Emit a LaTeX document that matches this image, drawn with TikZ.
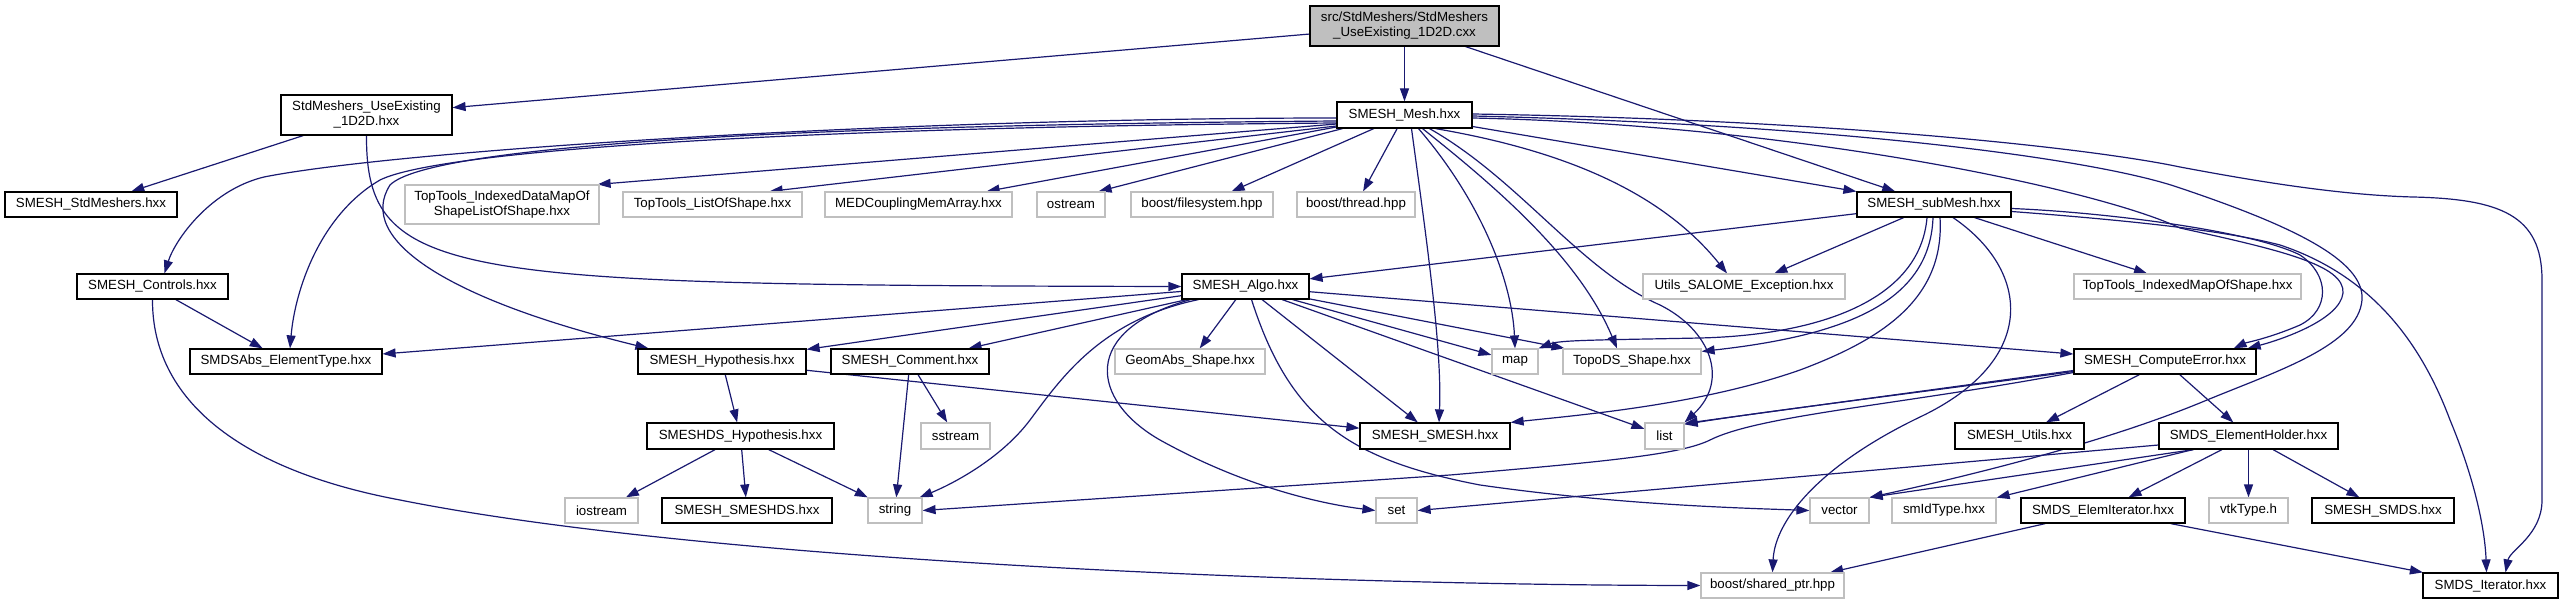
\documentclass[tikz,border=0pt]{standalone}
\usepackage{fontspec}
\setmainfont{Liberation Sans}
\usetikzlibrary{arrows.meta}
\definecolor{edgec}{HTML}{191970}
\definecolor{greyb}{HTML}{BFBFBF}
\pgfdeclarelayer{bg}
\pgfsetlayers{bg,main}
\tikzset{
 box/.style={fill=white, line width=1.2pt, inner sep=0pt, align=center, font=\fontsize{13.3}{15}\selectfont},
 doc/.style={box, draw=black},
 und/.style={box, draw=greyb},
 dep/.style={draw=edgec, line width=1.2pt, -{Triangle[length=13pt,width=9pt]}},
}
\begin{document}
\begin{tikzpicture}[x=1pt,y=-1pt]
\useasboundingbox (0,0) rectangle (2564,604);
% row 0
\node[doc, fill=greyb, minimum width=189pt, minimum height=40pt] (top) at (1404.5,26) {src/StdMeshers/StdMeshers\\\_UseExisting\_1D2D.cxx};
% row 1
\node[doc, minimum width=171pt, minimum height=40pt] (std) at (366.5,115) {StdMeshers\_UseExisting\\\_1D2D.hxx};
\node[doc, minimum width=135pt, minimum height=26pt] (mesh) at (1404.5,115) {SMESH\_Mesh.hxx};
% row 2
\node[doc, minimum width=172pt, minimum height=25pt] (smstd) at (91,204.5) {SMESH\_StdMeshers.hxx};
\node[und, minimum width=194pt, minimum height=39pt] (ttidm) at (502,204.5) {TopTools\_IndexedDataMapOf\\ShapeListOfShape.hxx};
\node[und, minimum width=179pt, minimum height=25pt] (ttlos) at (712.5,204.5) {TopTools\_ListOfShape.hxx};
\node[und, minimum width=187pt, minimum height=25pt] (med) at (918.5,204.5) {MEDCouplingMemArray.hxx};
\node[und, minimum width=68pt, minimum height=25pt] (ostream) at (1071,204.5) {ostream};
\node[und, minimum width=142pt, minimum height=25pt] (fs) at (1202,204.5) {boost/filesystem.hpp};
\node[und, minimum width=118pt, minimum height=25pt] (thread) at (1356,204.5) {boost/thread.hpp};
\node[doc, minimum width=154pt, minimum height=25pt] (submesh) at (1934,204.5) {SMESH\_subMesh.hxx};
% row 3
\node[doc, minimum width=151pt, minimum height=25pt] (controls) at (152.5,286.5) {SMESH\_Controls.hxx};
\node[doc, minimum width=127pt, minimum height=25pt] (algo) at (1245.5,286.5) {SMESH\_Algo.hxx};
\node[und, minimum width=202pt, minimum height=25pt] (utils) at (1744,286.5) {Utils\_SALOME\_Exception.hxx};
\node[und, minimum width=227pt, minimum height=25pt] (ttims) at (2187.5,286.5) {TopTools\_IndexedMapOfShape.hxx};
% row 4
\node[doc, minimum width=192pt, minimum height=25pt] (smdsabs) at (286,361.5) {SMDSAbs\_ElementType.hxx};
\node[doc, minimum width=168pt, minimum height=25pt] (hyp) at (722,361.5) {SMESH\_Hypothesis.hxx};
\node[doc, minimum width=158pt, minimum height=25pt] (comment) at (910,361.5) {SMESH\_Comment.hxx};
\node[und, minimum width=150pt, minimum height=25pt] (geomabs) at (1190,361.5) {GeomAbs\_Shape.hxx};
\node[und, minimum width=46pt, minimum height=25pt] (map) at (1515,361.5) {map};
\node[und, minimum width=138pt, minimum height=25pt] (topods) at (1632,361.5) {TopoDS\_Shape.hxx};
\node[doc, minimum width=182pt, minimum height=25pt] (comperr) at (2165,361.5) {SMESH\_ComputeError.hxx};
% row 5
\node[doc, minimum width=187pt, minimum height=26pt] (smeshdshyp) at (740.5,436) {SMESHDS\_Hypothesis.hxx};
\node[und, minimum width=69pt, minimum height=26pt] (sstream) at (955.5,436) {sstream};
\node[doc, minimum width=150pt, minimum height=26pt] (smesh) at (1435,436) {SMESH\_SMESH.hxx};
\node[und, minimum width=39pt, minimum height=26pt] (list) at (1664.5,436) {list};
\node[doc, minimum width=129pt, minimum height=26pt] (utilsh) at (2019.5,436) {SMESH\_Utils.hxx};
\node[doc, minimum width=179pt, minimum height=26pt] (elemholder) at (2248.5,436) {SMDS\_ElementHolder.hxx};
% row 6
\node[und, minimum width=73pt, minimum height=25pt] (iostream) at (601.5,510.5) {iostream};
\node[doc, minimum width=170pt, minimum height=25pt] (smeshds) at (747,510.5) {SMESH\_SMESHDS.hxx};
\node[und, minimum width=54pt, minimum height=25pt] (string) at (895,510.5) {string};
\node[und, minimum width=41pt, minimum height=25pt] (set) at (1396.5,510.5) {set};
\node[und, minimum width=59pt, minimum height=25pt] (vector) at (1839.5,510.5) {vector};
\node[und, minimum width=104pt, minimum height=25pt] (smid) at (1944,510.5) {smIdType.hxx};
\node[doc, minimum width=164pt, minimum height=25pt] (elemiter) at (2103,510.5) {SMDS\_ElemIterator.hxx};
\node[und, minimum width=79pt, minimum height=25pt] (vtk) at (2248.5,510.5) {vtkType.h};
\node[doc, minimum width=142pt, minimum height=25pt] (smds) at (2383,510.5) {SMESH\_SMDS.hxx};
% row 7
\node[und, minimum width=143pt, minimum height=25pt] (shared) at (1772.5,585.5) {boost/shared\_ptr.hpp};
\node[doc, minimum width=135pt, minimum height=25pt] (iter) at (2490.5,585.5) {SMDS\_Iterator.hxx};

\begin{pgfonlayer}{bg}
% top
\draw[dep] (top) -- (std);
\draw[dep] (top) -- (mesh);
\draw[dep] (top) -- (submesh);
% std
\draw[dep] (std) -- (smstd);
\draw[dep] (std.south) .. controls (366,280) and (450,285) .. (algo.west);
% mesh, left side
\draw[dep] ([yshift=-3pt]mesh.west) .. controls (900,118) and (400,150) .. (264,177) .. controls (210,190) and (175,240) .. ([xshift=12pt]controls.north);
\draw[dep] ([yshift=-8pt]mesh.west) .. controls (800,127) and (440,150) .. (380,180) .. controls (320,215) and (295,290) .. ([xshift=4pt]smdsabs.north);
\draw[dep] ([yshift=-6pt]mesh.west) .. controls (800,125) and (430,145) .. (390,185) .. controls (355,240) and (450,300) .. ([xshift=11pt]hyp.north west);
\draw[dep] ([yshift=-9pt]mesh.west) -- ([xshift=-2pt]ttidm.north east);
\draw[dep] ([yshift=-11pt]mesh.west) -- ([xshift=-33pt]ttlos.north east);
\draw[dep] ([yshift=-12pt]mesh.west) -- ([xshift=-26pt]med.north east);
\draw[dep] ([xshift=-62pt]mesh.south) -- ([xshift=-7pt]ostream.north east);
\draw[dep] (mesh) -- (fs);
\draw[dep] (mesh) -- (thread);
% mesh, bottom
\draw[dep] ([xshift=7pt]mesh.south) .. controls (1428,250) and (1442,350) .. ([xshift=4pt]smesh.north);
\draw[dep] ([xshift=14pt]mesh.south) .. controls (1480,200) and (1512,280) .. (map.north);
\draw[dep] ([xshift=18pt]mesh.south) .. controls (1500,190) and (1580,260) .. ([xshift=-15pt]topods.north);
\draw[dep] ([xshift=25pt]mesh.south) .. controls (1520,180) and (1580,270) .. (1660,305) .. controls (1710,330) and (1730,380) .. (list.north east);
\draw[dep] ([xshift=31pt]mesh.south) .. controls (1560,150) and (1660,190) .. ([xshift=-17pt]utils.north);
\draw[dep] (mesh) -- (submesh);
% mesh, right side
\draw[dep] ([yshift=-3pt]mesh.east) .. controls (1800,125) and (2100,190) .. (2180,228) .. controls (2280,250) and (2345,265) .. (2343,293) .. controls (2340,320) and (2280,340) .. ([xshift=-9pt]comperr.north east);
\draw[dep] ([yshift=-1pt]mesh.east) .. controls (1850,125) and (2100,160) .. (2180,188) .. controls (2290,225) and (2365,260) .. (2362,300) .. controls (2358,345) and (2280,370) .. (2207,400) .. controls (2100,445) and (1950,480) .. (vector.north east);
\draw[dep] ([yshift=1pt]mesh.east) .. controls (1850,120) and (2100,150) .. (2180,167) .. controls (2260,182) and (2340,195) .. (2413,197) .. controls (2500,199) and (2542,215) .. (2542,280) -- (2542,500) .. controls (2542,535) and (2510,550) .. ([xshift=15pt]iter.north);
% submesh
\draw[dep] (submesh) -- (algo);
\draw[dep] (submesh) -- (utils);
\draw[dep] (submesh) -- (ttims);
\draw[dep] ([xshift=-7pt]submesh.south) .. controls (1920,300) and (1820,335) .. (1700,338) .. controls (1600,340) and (1560,340) .. (map.north east);
\draw[dep] ([xshift=-1pt]submesh.south) .. controls (1930,300) and (1850,335) .. ([yshift=-3pt]topods.north east);
\draw[dep] ([xshift=6pt]submesh.south) .. controls (1945,300) and (1880,340) .. (1800,370) .. controls (1700,405) and (1580,415) .. (smesh.north east);
\draw[dep] ([xshift=19pt]submesh.south) .. controls (2030,270) and (2040,360) .. (1920,417) .. controls (1820,465) and (1775,520) .. (shared.north);
\draw[dep] ([yshift=-4pt]submesh.east) .. controls (2100,212) and (2250,230) .. (2300,255) .. controls (2330,275) and (2330,310) .. (2300,325) .. controls (2270,338) and (2245,343) .. ([xshift=-23pt]comperr.north east);
\draw[dep] ([yshift=-7pt]submesh.east) .. controls (2150,222) and (2230,232) .. (2280,245) .. controls (2370,275) and (2420,340) .. (2450,420) .. controls (2475,480) and (2485,530) .. ([xshift=-4pt]iter.north);
% controls
\draw[dep] (controls) -- (smdsabs);
\draw[dep] (controls.south) .. controls (152,400) and (240,470) .. (400,500) .. controls (700,560) and (1300,585) .. (shared.west);
% algo
\draw[dep] (algo) -- (smdsabs);
\draw[dep] (algo) -- (hyp);
\draw[dep] (algo) -- (comment);
\draw[dep] (algo) -- (geomabs);
\draw[dep] (algo) -- (map);
\draw[dep] (algo) -- (topods);
\draw[dep] (algo) -- (smesh);
\draw[dep] (algo) -- (list);
\draw[dep] (algo) -- (comperr);
\draw[dep] ([xshift=-47pt]algo.south) .. controls (1100,320) and (1060,380) .. (1030,420) .. controls (1000,460) and (950,485) .. ([xshift=-3pt]string.north east);
\draw[dep] ([xshift=-55pt]algo.south) .. controls (1080,330) and (1090,400) .. (1160,440) .. controls (1250,490) and (1330,505) .. (set.west);
\draw[dep] ([xshift=6pt]algo.south) .. controls (1290,420) and (1350,460) .. (1480,485) .. controls (1620,505) and (1740,508) .. (vector.west);
% hypothesis, comment
\draw[dep] (hyp) -- (smeshdshyp);
\draw[dep] (hyp) -- (smesh);
\draw[dep] (comment) -- (string);
\draw[dep] (comment) -- (sstream);
\draw[dep] (smeshdshyp) -- (iostream);
\draw[dep] (smeshdshyp) -- (smeshds);
\draw[dep] (smeshdshyp) -- (string);
% compute error
\draw[dep] (comperr) -- (utilsh);
\draw[dep] (comperr) -- (elemholder);
\draw[dep] ([yshift=-9pt]comperr.west) -- ([yshift=-1pt]list.north east);
\draw[dep] ([yshift=-10pt]comperr.west) .. controls (1900,395) and (1760,412) .. ([yshift=-2pt]list.north east);
\draw[dep] ([yshift=-11pt]comperr.west) .. controls (1900,405) and (1760,415) .. (1710,440) .. controls (1680,455) and (1600,462) .. (1450,475) -- (string.east);
% element holder
\draw[dep] ([yshift=-9pt]elemholder.west) -- (set.east);
\draw[dep] ([xshift=-55pt]elemholder.south) -- (vector.north east);
\draw[dep] (elemholder) -- (smid);
\draw[dep] (elemholder) -- (elemiter);
\draw[dep] (elemholder) -- (vtk);
\draw[dep] (elemholder) -- (smds);
% elem iterator
\draw[dep] (elemiter) -- (shared);
\draw[dep] (elemiter) -- (iter);
\end{pgfonlayer}
\end{tikzpicture}
\end{document}
